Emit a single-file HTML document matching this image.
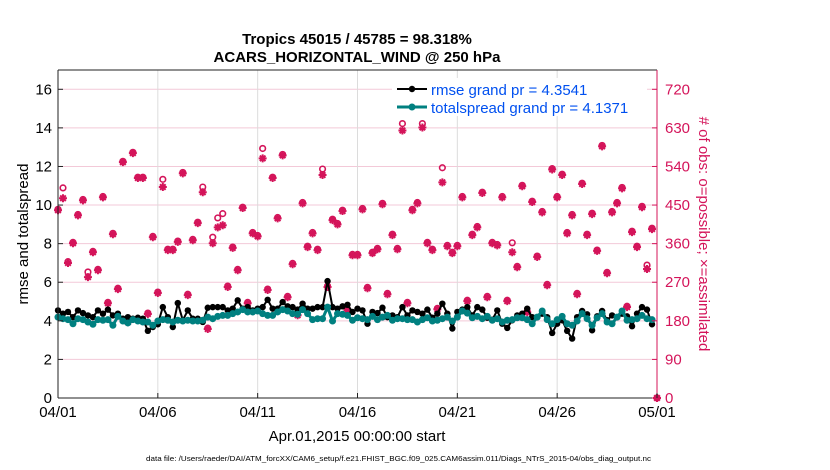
<!DOCTYPE html>
<html><head><meta charset="utf-8"><style>
html,body{margin:0;padding:0;background:#fff;}
svg{display:block;font-family:"Liberation Sans",Arial,sans-serif;}
</style></head><body>
<svg id="chart" width="830" height="470" viewBox="0 0 830 470">
<g id="grid"></g>
<g id="marks"></g>
<g id="axes"></g>
<text x="357" y="44" text-anchor="middle" font-size="15" font-weight="bold">Tropics 45015 / 45785 = 98.318%</text>
<text x="357" y="62" text-anchor="middle" font-size="15" font-weight="bold">ACARS_HORIZONTAL_WIND @ 250 hPa</text>
<text transform="translate(28,234) rotate(-90)" text-anchor="middle" font-size="15">rmse and totalspread</text>
<text transform="translate(699,234) rotate(90)" text-anchor="middle" font-size="15" fill="#d4145a"># of obs: o=possible; ×=assimilated</text>
<text x="357" y="441" text-anchor="middle" font-size="15">Apr.01,2015 00:00:00 start</text>
<text x="146" y="461" font-size="7.5" textLength="505" lengthAdjust="spacingAndGlyphs">data file: /Users/raeder/DAI/ATM_forcXX/CAM6_setup/f.e21.FHIST_BGC.f09_025.CAM6assim.011/Diags_NTrS_2015-04/obs_diag_output.nc</text>
<g>
<rect x="392" y="78" width="255" height="38" fill="#fff"/>
<g>
<line x1="397" y1="89" x2="427" y2="89" stroke="#000" stroke-width="2"/>
<circle cx="412" cy="89" r="3.2" fill="#000"/>
<text x="431" y="95" font-size="15" fill="#0050f0">rmse grand pr = 4.3541</text>
</g>
<g>
<line x1="397" y1="107" x2="427" y2="107" stroke="#008080" stroke-width="3"/>
<circle cx="412" cy="107" r="3.5" fill="#008080"/>
<text x="431" y="113" font-size="15" fill="#0050f0">totalspread grand pr = 4.1371</text>
</g>
</g>
</svg>
<script>
const xTickLabels = ["04/01","04/06","04/11","04/16","04/21","04/26","05/01"];
const xTickDays = [0,5,10,15,20,25,30];
const yTicks = [0,2,4,6,8,10,12,14,16];
const rTicks = [0,90,180,270,360,450,540,630,720];
const stepDays = 0.25;
const rmse = [4.54,4.37,4.46,4.19,4.54,4.40,4.28,4.19,4.54,4.37,
4.58,4.28,4.37,4.11,4.19,4.11,4.16,4.11,3.48,3.68,
3.82,4.71,4.19,3.68,4.92,4.03,4.54,4.11,4.11,3.94,
4.68,4.71,4.71,4.71,4.54,4.63,5.06,4.63,4.71,4.54,
4.63,4.71,5.09,4.63,4.63,4.97,4.75,4.71,4.58,4.89,
4.63,4.63,4.71,4.71,6.06,4.71,4.63,4.75,4.83,4.46,
4.63,4.54,
3.85,4.46,4.40,4.68,4.19,4.28,4.19,4.71,4.28,4.54,
4.46,4.37,4.58,4.16,4.37,4.89,4.37,3.60,4.46,4.58,
4.71,4.28,4.71,4.58,4.16,4.06,4.54,3.85,3.63,4.03,
4.28,4.37,4.63,4.19,4.19,4.37,4.19,3.37,3.85,4.03,
3.48,3.08,4.19,4.51,4.34,3.51,4.23,4.51,4.03,4.28,
4.19,4.37,4.23,3.72,4.37,4.71,4.58,3.82];
const totalspread = [4.19,4.11,4.06,3.85,4.11,4.06,3.94,3.82,4.06,4.03,
4.06,3.77,4.23,3.99,3.89,4.06,3.99,3.94,3.94,3.77,
3.99,4.06,4.03,3.94,4.03,3.99,4.03,3.99,3.99,4.03,
4.19,4.11,4.23,4.28,4.28,4.37,4.46,4.58,4.46,4.46,
4.51,4.37,4.28,4.28,4.46,4.58,4.51,4.37,4.34,4.58,
4.37,4.06,4.11,4.11,4.71,3.99,4.37,4.34,4.28,4.03,
4.16,4.11,
4.06,4.23,4.06,4.19,4.28,4.03,4.11,4.11,4.06,4.06,
3.94,4.06,4.16,3.99,4.03,4.11,4.19,3.99,4.19,4.51,
4.40,4.16,4.23,4.11,4.23,4.03,4.11,3.94,4.03,4.06,
4.16,4.16,4.06,3.85,4.19,4.51,4.06,3.85,4.06,4.23,
3.85,3.77,3.99,4.37,4.11,3.77,4.16,4.37,3.94,3.85,
4.19,4.51,4.03,4.06,4.11,4.28,4.11,4.06];
const assimilated = [438,466,315,361,426,461,282,340,298,468,
221,382,254,550,177,571,513,513,196,375,
245,492,345,345,364,524,240,368,408,480,
161,361,398,403,259,350,298,443,221,384,
377,559,252,513,419,566,235,312,193,454,
352,384,345,520,259,415,405,436,205,333,
333,440,
256,338,347,452,242,380,347,624,221,438,
454,631,361,345,207,503,354,338,354,468,
226,380,398,478,235,361,356,468,226,340,
305,494,200,457,329,433,263,533,468,520,
384,426,242,499,380,429,343,587,291,433,
454,489,212,387,352,445,301,394,0];
const possible = [440,490,318,363,428,463,294,342,300,470,
223,384,256,552,179,573,515,515,198,377,
247,510,347,347,366,526,242,370,410,492,
163,375,420,430,261,352,300,445,223,386,
379,582,254,515,421,568,237,314,195,456,
354,386,347,534,261,417,407,438,207,335,
335,442,
258,340,349,454,244,382,349,640,223,440,
456,640,363,347,209,537,356,340,356,470,
228,382,400,480,237,363,358,470,228,362,
307,496,202,459,331,435,265,535,470,522,
386,428,244,501,382,431,345,589,293,435,
456,491,214,389,354,447,310,396,0];

const X0=58, X1=657, YB=398, YT=70, YMAX=17, RMAX=765;
const NS='http://www.w3.org/2000/svg';
function xs(d){return X0+(X1-X0)*d/30;}
function yl(v){return YB-(YB-YT)*v/YMAX;}
function yr(v){return YB-(YB-YT)*v/RMAX;}
function mk(tag,attrs,parent){const e=document.createElementNS(NS,tag);for(const k in attrs)e.setAttribute(k,attrs[k]);parent.appendChild(e);return e;}
const grid=document.getElementById('grid'), marks=document.getElementById('marks'), axes=document.getElementById('axes');
const RED='#d4145a';
// grid
rTicks.forEach(t=>{if(t===0)return;const l=mk('line',{x1:X0,x2:X1,y1:yr(t),y2:yr(t),stroke:'#f3c9d8','stroke-width':1},grid);

});
xTickDays.forEach(d=>{if(d===0||d===30)return;const l=mk('line',{x1:xs(d),x2:xs(d),y1:YT,y2:YB,stroke:'#dcdcdc','stroke-width':1},grid);

});
// obs markers
const obsG=mk('g',{},marks);


possible.forEach((v,i)=>{const c=mk('circle',{cx:xs(i*stepDays),cy:yr(v),r:2.8,fill:'none',stroke:RED,'stroke-width':1.6},obsG);

});
assimilated.forEach((v,i)=>{const x=xs(i*stepDays),y=yr(v);const s=4;
const p=mk('path',{d:`M${x-s},${y}H${x+s}M${x},${y-s}V${y+s}M${x-s*0.7},${y-s*0.7}L${x+s*0.7},${y+s*0.7}M${x-s*0.7},${y+s*0.7}L${x+s*0.7},${y-s*0.7}`,stroke:RED,'stroke-width':2},obsG);


mk('circle',{cx:x,cy:y,r:2.4,fill:RED},obsG);});
// lines
function series(arr,color,w,r,name){const g=mk('g',{},marks);


const pts=arr.map((v,i)=>xs(i*stepDays).toFixed(1)+','+yl(v).toFixed(1)).join(' ');
mk('polyline',{points:pts,fill:'none',stroke:color,'stroke-width':w,'stroke-linejoin':'round'},g);
arr.forEach((v,i)=>{const c=mk('circle',{cx:xs(i*stepDays),cy:yl(v),r:r,fill:color},g);

});}
series(rmse,'#000',2,3.2,'rmse-series');
series(totalspread,'#008080',3,3.5,'totalspread-series');
// axes frame
mk('line',{x1:X0,x2:X1,y1:YT,y2:YT,stroke:'#222','stroke-width':1},axes);
mk('line',{x1:X0,x2:X1,y1:YB,y2:YB,stroke:'#222','stroke-width':1},axes);
mk('line',{x1:X0,x2:X0,y1:YT,y2:YB,stroke:'#222','stroke-width':1},axes);
mk('line',{x1:X1,x2:X1,y1:YT,y2:YB,stroke:RED,'stroke-width':1},axes);
yTicks.forEach(t=>{const y=yl(t);mk('line',{x1:X0,x2:X0+5,y1:y,y2:y,stroke:'#222'},axes);
const tx=mk('text',{x:X0-6,y:y+5,'text-anchor':'end','font-size':15},axes);tx.textContent=t;

});
rTicks.forEach(t=>{const y=yr(t);mk('line',{x1:X1-5,x2:X1,y1:y,y2:y,stroke:RED},axes);
const tx=mk('text',{x:X1+8,y:y+5,'font-size':15,fill:RED},axes);tx.textContent=t;

});
xTickDays.forEach((d,i)=>{const x=xs(d);mk('line',{x1:x,x2:x,y1:YB,y2:YB-5,stroke:'#222'},axes);
const tx=mk('text',{x:x,y:YB+19,'text-anchor':'middle','font-size':15},axes);tx.textContent=xTickLabels[i];

});
</script>
</body></html>
